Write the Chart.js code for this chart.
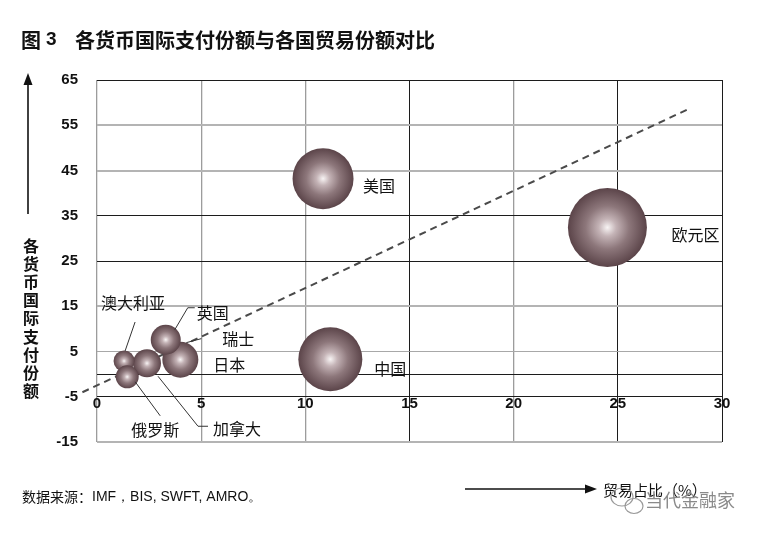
<!DOCTYPE html>
<html>
<head>
<meta charset="utf-8">
<script src="https://cdn.jsdelivr.net/npm/chart.js@4.4.1/dist/chart.umd.min.js"></script>
<style>
  html, body { margin: 0; padding: 0; background: #fff; }
  #wrap { width: 762px; height: 533px; position: relative; }
</style>
</head>
<body>
<div id="wrap"><canvas id="c"></canvas></div>
<script>
// values
const countries = ['美国', '欧元区', '中国', '日本', '英国', '加拿大', '澳大利亚', '俄罗斯']
const tradeShare = [10.85, 24.5, 11.2, 4.0, 3.3, 2.4, 1.3, 1.45]
const paymentShare = [43.2, 32.4, 3.3, 3.2, 7.6, 2.4, 2.9, -0.6]
const bubbleSize = [30.5, 39.5, 32, 18, 15, 14, 10.5, 11.5]
const trendX = [-0.7, 28.4]
const trendY = [-4, 58.6]
const xTicks = [0, 5, 10, 15, 20, 25, 30]
const yTicks = [-15, -5, 5, 15, 25, 35, 45, 55, 65]

const CJK = '"Noto Sans CJK SC", "Noto Sans", sans-serif'
const NUM = '"Liberation Sans", Arial, sans-serif'
const BLACK = '#1c1c1c'
const GRAY = '#b4b4b4'

// which grid lines are drawn dark in the original
const darkY = [65, 35, 25, 0, -5]
const darkX = [15, 25, 30]

// label placement relative to the bubble centre (pixels), with leader polylines
const labelStyle = {
  '美国': { dx: 40, dy: 7 },
  '欧元区': { dx: 64, dy: 7 },
  '中国': { dx: 44, dy: 10 },
  '日本': { dx: 33, dy: 5 },
  '英国': { dx: 31, dy: -27, lead: [[9, -10], [22, -32], [29, -32]] },
  '加拿大': { dx: 66, dy: 66, lead: [[11, 13], [51, 63], [61, 63]] },
  '澳大利亚': { dx: -23, dy: -58, lead: [[1, -10], [11, -39]] },
  '俄罗斯': { dx: 4, dy: 53, lead: [[8, 5], [33, 39]] }
}
// 瑞士 is only labelled, pointing at the 日本 bubble
const swiss = { text: '瑞士', of: '日本', dx: 42, dy: -21, lead: [[6, -17], [21, -21]] }

const bubbles = countries.map((c, i) => ({ x: tradeShare[i], y: paymentShare[i], r: bubbleSize[i] }))
const trend = trendX.map((x, i) => ({ x: x, y: trendY[i] }))

function sphere(ctx) {
  const chart = ctx.chart
  const raw = ctx.raw
  if (!raw || !chart.scales.x || !chart.chartArea) return '#7a6468'
  const px = chart.scales.x.getPixelForValue(raw.x)
  const py = chart.scales.y.getPixelForValue(raw.y)
  const g = chart.ctx.createRadialGradient(px, py, 0, px, py, raw.r)
  g.addColorStop(0, '#f8f4f4')
  g.addColorStop(0.22, '#c4b3b6')
  g.addColorStop(0.55, '#8d777b')
  g.addColorStop(1, '#5b4449')
  return g
}

function arrowHead(ctx, x, y, dir) {
  ctx.beginPath()
  if (dir === 'up') {
    ctx.moveTo(x, y)
    ctx.lineTo(x - 4.5, y + 12)
    ctx.lineTo(x + 4.5, y + 12)
  } else {
    ctx.moveTo(x, y)
    ctx.lineTo(x - 12, y - 4.5)
    ctx.lineTo(x - 12, y + 4.5)
  }
  ctx.closePath()
  ctx.fill()
}

const decor = {
  id: 'decor',
  afterDraw(chart) {
    const ctx = chart.ctx
    ctx.save()
    ctx.fillStyle = '#111'
    ctx.strokeStyle = '#111'
    ctx.textBaseline = 'middle'
    ctx.textAlign = 'left'

    // title
    ctx.font = 'bold 20px ' + CJK
    ctx.fillText('图', 21, 40)
    ctx.font = 'bold 19px ' + NUM
    ctx.fillText('3', 46, 40)
    ctx.font = 'bold 20px ' + CJK
    ctx.fillText('各货币国际支付份额与各国贸易份额对比', 75, 40)

    // y axis title with arrow
    ctx.lineWidth = 1.6
    ctx.beginPath()
    ctx.moveTo(28, 214)
    ctx.lineTo(28, 82)
    ctx.stroke()
    arrowHead(ctx, 28, 73, 'up')
    ctx.font = 'bold 16px ' + CJK
    ctx.textAlign = 'center'
    const ytitle = '各货币国际支付份额'
    for (let i = 0; i < ytitle.length; i++) {
      ctx.fillText(ytitle[i], 31, 246 + i * 18.1)
    }

    // x axis title with arrow
    ctx.beginPath()
    ctx.moveTo(465, 489)
    ctx.lineTo(588, 489)
    ctx.stroke()
    arrowHead(ctx, 597, 489, 'right')
    ctx.textAlign = 'left'
    ctx.font = '15px ' + CJK
    ctx.fillText('贸易占比（%）', 603, 490)

    // source
    ctx.font = '14px ' + CJK
    ctx.fillText('数据来源：', 22, 497)
    ctx.font = '14px ' + NUM
    ctx.fillText('IMF，BIS, SWFT, AMRO。', 92, 497)

    // bubble labels
    const meta = chart.getDatasetMeta(1)
    ctx.font = '16px ' + CJK
    ctx.lineWidth = 1
    ctx.strokeStyle = '#333'
    const centre = {}
    countries.forEach((c, i) => {
      const el = meta.data[i]
      centre[c] = [el.x, el.y]
    })
    const put = (text, base, st) => {
      const [bx, by] = base
      ctx.fillText(text, bx + st.dx, by + st.dy)
      if (st.lead) {
        ctx.beginPath()
        st.lead.forEach((p, k) => {
          if (k === 0) ctx.moveTo(bx + p[0], by + p[1])
          else ctx.lineTo(bx + p[0], by + p[1])
        })
        ctx.stroke()
      }
    }
    countries.forEach(c => put(c, centre[c], labelStyle[c]))
    put(swiss.text, centre[swiss.of], swiss)

    // watermark
    ctx.strokeStyle = '#9a9a9a'
    ctx.lineWidth = 1.2
    ctx.beginPath()
    ctx.ellipse(622, 497, 11, 9, 0, 0, Math.PI * 2)
    ctx.stroke()
    ctx.beginPath()
    ctx.ellipse(634, 506, 9, 7.5, 0, 0, Math.PI * 2)
    ctx.stroke()
    ctx.fillStyle = '#8a8a8a'
    ctx.font = '18px ' + CJK
    ctx.fillText('当代金融家', 645, 500)
    ctx.restore()
  }
}

new Chart(document.getElementById('c'), {
  type: 'bubble',
  data: {
    datasets: [
      {
        type: 'line',
        data: trend,
        borderColor: '#4a4a4a',
        borderWidth: 2,
        borderDash: [7, 5],
        pointRadius: 0,
        fill: false,
        clip: false,
        order: 2
      },
      {
        type: 'bubble',
        data: bubbles,
        backgroundColor: sphere,
        borderWidth: 0,
        order: 1
      }
    ]
  },
  options: {
    responsive: true,
    maintainAspectRatio: false,
    animation: false,
    devicePixelRatio: 1,
    events: [],
    layout: { padding: { top: 80, right: 40, bottom: 91, left: 0 } },
    plugins: { legend: { display: false }, tooltip: { enabled: false } },
    scales: {
      x: {
        type: 'linear',
        position: { y: -5 },
        min: 0,
        max: 30,
        afterBuildTicks: s => { s.ticks = xTicks.map(v => ({ value: v })) },
        border: { display: false },
        grid: {
          drawTicks: false,
          color: c => darkX.includes(c.tick.value) ? BLACK : '#9c9c9c',
          lineWidth: c => darkX.includes(c.tick.value) ? 1 : 1.3
        },
        ticks: {
          padding: -2,
          color: '#111',
          font: { family: NUM, size: 15, weight: 'bold' },
          maxRotation: 0
        }
      },
      y: {
        type: 'linear',
        min: -15,
        max: 65,
        afterFit: s => { s.width = 97 },
        afterBuildTicks: s => {
          s.ticks = yTicks.concat([0]).sort((a, b) => a - b).map(v => ({ value: v }))
        },
        border: { display: false },
        grid: {
          drawTicks: false,
          color: c => darkY.includes(c.tick.value) ? BLACK : (c.tick.value === 5 ? '#a8a8a8' : GRAY),
          lineWidth: c => darkY.includes(c.tick.value) ? 1 : (c.tick.value === 5 ? 1 : 2)
        },
        ticks: {
          padding: 19,
          color: '#111',
          font: { family: NUM, size: 15, weight: 'bold' },
          callback: v => v === 0 ? '' : String(v)
        }
      }
    }
  },
  plugins: [decor]
})
</script>
</body>
</html>
